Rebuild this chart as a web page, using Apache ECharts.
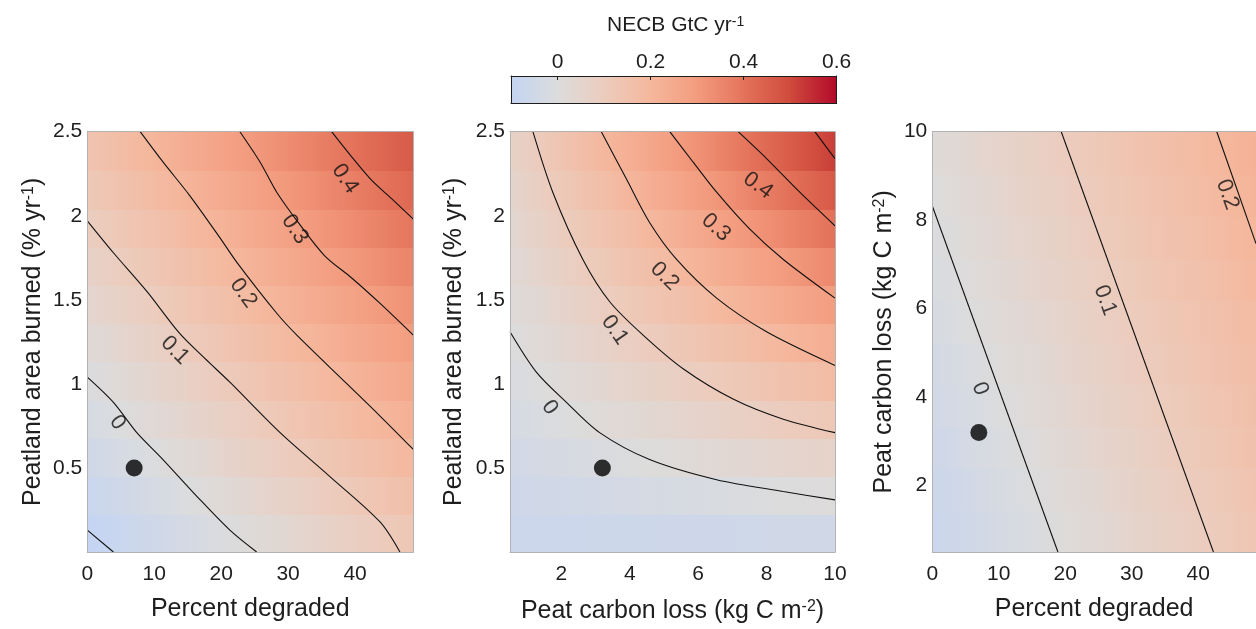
<!DOCTYPE html>
<html>
<head>
<meta charset="utf-8">
<title>NECB sensitivity</title>
<script src="https://cdn.jsdelivr.net/npm/echarts@6/dist/echarts.min.js"></script>
<style>
  html, body { margin: 0; padding: 0; background: #fff; }
  #necb-chart { width: 1256px; height: 629px; }
</style>
</head>
<body>
<div id="necb-chart"></div>
<script>
// sample positions: x nodes (shaded linearly between) and row centres (flat bands)
const degradedNodes = [0, 5, 10, 15, 20, 25, 30, 35, 40, 45, 48.7]
const lossNodes = [0.5, 1.5, 2.5, 3.5, 4.5, 5.5, 6.5, 7.5, 8.5, 9.5, 10]
const burnedRows = [0.114, 0.341, 0.568, 0.795, 1.023, 1.25, 1.477, 1.705, 1.932, 2.159, 2.386]
const lossRows = [0.975, 1.925, 2.875, 3.825, 4.775, 5.725, 6.675, 7.625, 8.575, 9.525]

// NECB (GtC/yr), rows from bottom to top
const necbDegBurn = [
  [-0.104, -0.080, -0.056, -0.033, -0.009, 0.015, 0.038, 0.062, 0.086, 0.109, 0.127],
  [-0.080, -0.055, -0.030, -0.006, 0.019, 0.044, 0.068, 0.093, 0.117, 0.142, 0.160],
  [-0.055, -0.030, -0.004, 0.021, 0.047, 0.073, 0.098, 0.124, 0.149, 0.175, 0.194],
  [-0.031, -0.005, 0.022, 0.048, 0.075, 0.101, 0.128, 0.154, 0.181, 0.207, 0.227],
  [-0.007, 0.021, 0.048, 0.076, 0.103, 0.131, 0.158, 0.185, 0.213, 0.240, 0.261],
  [0.018, 0.046, 0.074, 0.103, 0.131, 0.160, 0.188, 0.216, 0.245, 0.273, 0.294],
  [0.042, 0.071, 0.100, 0.130, 0.159, 0.188, 0.218, 0.247, 0.276, 0.306, 0.327],
  [0.066, 0.096, 0.127, 0.157, 0.187, 0.218, 0.248, 0.278, 0.308, 0.339, 0.361],
  [0.090, 0.122, 0.153, 0.184, 0.215, 0.246, 0.278, 0.309, 0.340, 0.371, 0.394],
  [0.115, 0.147, 0.179, 0.211, 0.243, 0.275, 0.308, 0.340, 0.372, 0.404, 0.428],
  [0.139, 0.172, 0.205, 0.238, 0.271, 0.304, 0.337, 0.371, 0.404, 0.437, 0.461]
]
const necbLossBurn = [
  [-0.071, -0.068, -0.066, -0.064, -0.062, -0.059, -0.057, -0.055, -0.052, -0.050, -0.049],
  [-0.057, -0.050, -0.044, -0.037, -0.030, -0.023, -0.016, -0.009, -0.002, 0.004, 0.008],
  [-0.044, -0.032, -0.021, -0.010, 0.002, 0.013, 0.025, 0.036, 0.048, 0.059, 0.065],
  [-0.030, -0.014, 0.002, 0.018, 0.034, 0.050, 0.066, 0.082, 0.097, 0.113, 0.121],
  [-0.017, 0.004, 0.024, 0.045, 0.065, 0.086, 0.106, 0.127, 0.148, 0.168, 0.178],
  [-0.004, 0.022, 0.047, 0.072, 0.097, 0.122, 0.147, 0.172, 0.198, 0.223, 0.235],
  [0.010, 0.040, 0.069, 0.099, 0.129, 0.158, 0.188, 0.218, 0.247, 0.277, 0.292],
  [0.023, 0.058, 0.092, 0.126, 0.161, 0.195, 0.229, 0.263, 0.298, 0.332, 0.349],
  [0.037, 0.076, 0.114, 0.153, 0.192, 0.231, 0.270, 0.309, 0.348, 0.386, 0.406],
  [0.050, 0.094, 0.137, 0.180, 0.224, 0.267, 0.311, 0.354, 0.397, 0.441, 0.463],
  [0.064, 0.112, 0.160, 0.208, 0.255, 0.303, 0.351, 0.399, 0.447, 0.495, 0.519]
]
const necbDegLoss = [
  [-0.077, -0.055, -0.034, -0.013, 0.009, 0.030, 0.051, 0.073, 0.094, 0.115, 0.131],
  [-0.067, -0.045, -0.024, -0.003, 0.019, 0.040, 0.061, 0.083, 0.104, 0.125, 0.141],
  [-0.057, -0.035, -0.014, 0.007, 0.029, 0.050, 0.071, 0.092, 0.114, 0.135, 0.151],
  [-0.047, -0.026, -0.004, 0.017, 0.038, 0.060, 0.081, 0.102, 0.124, 0.145, 0.161],
  [-0.037, -0.016, 0.006, 0.027, 0.048, 0.070, 0.091, 0.112, 0.134, 0.155, 0.171],
  [-0.027, -0.006, 0.016, 0.037, 0.058, 0.079, 0.101, 0.122, 0.143, 0.165, 0.180],
  [-0.017, 0.004, 0.025, 0.047, 0.068, 0.089, 0.111, 0.132, 0.153, 0.175, 0.190],
  [-0.007, 0.014, 0.035, 0.057, 0.078, 0.099, 0.121, 0.142, 0.163, 0.184, 0.200],
  [0.003, 0.024, 0.045, 0.067, 0.088, 0.109, 0.130, 0.152, 0.173, 0.194, 0.210],
  [0.013, 0.034, 0.055, 0.076, 0.098, 0.119, 0.140, 0.162, 0.183, 0.204, 0.220]
]

// contour lines: [level, points]
const degBurnContours = [
  [-0.1, [[0, 0.13], [3.9, 0]]],
  [0, [[0, 1.04], [3.9, 0.89], [7.4, 0.71], [11.3, 0.55], [16.4, 0.33], [21.3, 0.13], [25.3, 0]]],
  [0.1, [[0, 1.97], [3.9, 1.78], [8.9, 1.55], [13.8, 1.3], [17.6, 1.15], [21.3, 1.01], [28.8, 0.71], [36.2, 0.45], [43.7, 0.18], [46.7, 0]]],
  [0.2, [[7.9, 2.5], [11.3, 2.32], [15.3, 2.12], [19.8, 1.87], [22.4, 1.72], [28.3, 1.42], [31.3, 1.29], [38.8, 1.0], [43.7, 0.81], [48.7, 0.61]]],
  [0.3, [[22.8, 2.5], [25.8, 2.32], [28.3, 2.14], [31.7, 1.95], [35.5, 1.76], [39.5, 1.63], [43.7, 1.48], [48.7, 1.29]]],
  [0.4, [[36.5, 2.5], [39.5, 2.35], [42.5, 2.21], [45.5, 2.1], [48.7, 1.98]]]
]
const lossBurnContours = [
  [0, [[0.5, 1.31], [1.27, 1.07], [2.15, 0.89], [3.12, 0.71], [4.58, 0.55], [6.54, 0.43], [8.49, 0.36], [10, 0.31]]],
  [0.1, [[1.17, 2.5], [1.75, 2.14], [2.63, 1.74], [3.41, 1.49], [4.39, 1.29], [5.56, 1.09], [7.02, 0.91], [8.49, 0.79], [10, 0.71]]],
  [0.2, [[3.17, 2.5], [3.9, 2.22], [4.58, 1.96], [5.37, 1.74], [6.54, 1.51], [8.0, 1.31], [10, 1.11]]],
  [0.3, [[5.17, 2.5], [5.85, 2.32], [6.54, 2.14], [7.51, 1.92], [8.49, 1.74], [10, 1.51]]],
  [0.4, [[7.17, 2.5], [8.0, 2.34], [8.97, 2.14], [10, 1.94]]],
  [0.5, [[9.41, 2.5], [10, 2.34]]]
]
const degLossContours = [
  [0, [[0, 8.32], [18.9, 0.5]]],
  [0.1, [[19.4, 10], [42.3, 0.5]]],
  [0.2, [[42.8, 10], [48.7, 7.47]]]
]

// contour labels: [text, x, y]
const degBurnLabels = [['0', 4.5, 0.77], ['0.1', 13.1, 1.2], ['0.2', 23.3, 1.54], ['0.3', 31.0, 1.92], ['0.4', 38.5, 2.22]]
const lossBurnLabels = [['0', 1.66, 0.86], ['0.1', 3.56, 1.32], ['0.2', 5.02, 1.64], ['0.3', 6.52, 1.93], ['0.4', 7.75, 2.18]]
const degLossLabels = [['0', 7.2, 4.19], ['0.1', 26.0, 6.19], ['0.2', 44.4, 8.58]]

// present-day estimate
const degBurnDot = [[7, 0.5]]
const lossBurnDot = [[3.2, 0.5]]
const degLossDot = [[7, 3.2]]

// colour bar levels
const colorbarLevels = [-0.1, 0, 0.1, 0.2, 0.3, 0.4, 0.5, 0.6]

const chart = echarts.init(document.getElementById('necb-chart'))
const ink = '#1e1e1e'
const frame = '#b3b3b3'
const font = 'Liberation Sans, Arial, Helvetica, sans-serif'
const palette = ['#c4d4f2', '#dcdcdc', '#ecccbd', '#f5b79c', '#f39b7e', '#e4735b', '#cf4a3c', '#b2082a']
const vMin = -0.1
const vMax = 0.6

function necbColor (v) {
  const t = Math.min(1, Math.max(0, (v - vMin) / (vMax - vMin)))
  return echarts.color.lerp(t, palette)
}

const plotTop = 131.7
const plotHeight = 420.3
const boxes = [[87.3, 326], [510, 325], [932.3, 328.7]]
const grids = boxes.map(b => ({ left: b[0], top: plotTop, width: b[1], height: plotHeight }))
grids.push({ left: 511, top: 76, width: 325.7, height: 27.3 })

const nameStyle = {
  fontSize: 25,
  color: ink,
  fontFamily: font,
  rich: { sup: { fontSize: 16, verticalAlign: 'top', color: ink, fontFamily: font } }
}

function frameAxis (gridIndex, min, max, position, color) {
  return {
    type: 'value', gridIndex, min, max, position, z: 5,
    axisLine: { show: true, onZero: false, lineStyle: { color, width: 1 } },
    axisTick: { show: false },
    axisLabel: { show: false },
    splitLine: { show: false }
  }
}

function valueAxis (gridIndex, min, max, ticks, name, nameGap, position, margin) {
  return {
    type: 'value', gridIndex, min, max, position, z: 5,
    name, nameLocation: 'middle', nameGap, nameTextStyle: nameStyle,
    axisLine: { show: true, onZero: false, lineStyle: { color: frame, width: 1 } },
    axisTick: { show: false },
    splitLine: { show: false },
    axisLabel: { customValues: ticks, fontSize: 21, color: ink, fontFamily: font, margin }
  }
}

// each row is a flat band, shaded linearly between x nodes
function bandSeries (axis, nodes, rows, values) {
  const half = (rows[1] - rows[0]) / 2
  const data = []
  values.forEach((row, r) => {
    for (let i = 0; i < nodes.length - 1; i++) {
      data.push([nodes[i], nodes[i + 1], rows[r] - half, rows[r] + half, row[i], row[i + 1]])
    }
  })
  return {
    type: 'custom', xAxisIndex: axis, yAxisIndex: axis, data, silent: true, clip: true, z: 1,
    encode: { x: [0, 1], y: [2, 3] },
    renderItem: (params, api) => {
      const a = api.coord([api.value(0), api.value(3)])
      const b = api.coord([api.value(1), api.value(2)])
      const x = Math.floor(a[0])
      const y = Math.floor(a[1])
      return {
        type: 'rect',
        shape: { x, y, width: Math.ceil(b[0]) - x + 1, height: Math.ceil(b[1]) - y + 1 },
        style: {
          fill: new echarts.graphic.LinearGradient(0, 0, 1, 0, [
            { offset: 0, color: necbColor(api.value(4)) },
            { offset: 1, color: necbColor(api.value(5)) }
          ])
        }
      }
    }
  }
}

const xAxis = [
  frameAxis(0, 0, 48.7, 'top', frame),
  valueAxis(0, 0, 48.7, [0, 10, 20, 30, 40], 'Percent degraded', 45, 'bottom', 12),
  frameAxis(1, 0.5, 10, 'top', frame),
  valueAxis(1, 0.5, 10, [2, 4, 6, 8, 10], 'Peat carbon loss (kg C m{sup|-2})', 47, 'bottom', 12),
  frameAxis(2, 0, 48.7, 'top', frame),
  valueAxis(2, 0, 48.7, [0, 10, 20, 30, 40], 'Percent degraded', 45, 'bottom', 12),
  {
    type: 'value', gridIndex: 3, min: vMin, max: vMax, position: 'top', z: 10,
    axisLine: { show: true, onZero: false, lineStyle: { color: ink, width: 1 } },
    splitLine: { show: false },
    axisTick: { show: true, inside: true, length: 4, customValues: [0, 0.2, 0.4], lineStyle: { color: ink } },
    axisLabel: { customValues: [0, 0.2, 0.4, 0.6], fontSize: 21, color: ink, fontFamily: font, margin: 3 }
  },
  frameAxis(3, vMin, vMax, 'bottom', ink)
]

const yAxis = [
  frameAxis(0, 0, 2.5, 'right', frame),
  valueAxis(0, 0, 2.5, [0.5, 1, 1.5, 2, 2.5], 'Peatland area burned (% yr{sup|-1})', 42, 'left', 5),
  frameAxis(1, 0, 2.5, 'right', frame),
  valueAxis(1, 0, 2.5, [0.5, 1, 1.5, 2, 2.5], 'Peatland area burned (% yr{sup|-1})', 43, 'left', 5),
  frameAxis(2, 0.5, 10, 'right', frame),
  valueAxis(2, 0.5, 10, [2, 4, 6, 8, 10], 'Peat carbon loss (kg C m{sup|-2})', 36, 'left', 5),
  frameAxis(3, 0, 1, 'left', ink),
  frameAxis(3, 0, 1, 'right', ink)
]

const series = [
  bandSeries(1, degradedNodes, burnedRows, necbDegBurn),
  bandSeries(3, lossNodes, burnedRows, necbLossBurn),
  bandSeries(5, degradedNodes, lossRows, necbDegLoss)
]

// colour bar, drawn on its own value axis
series.push({
  type: 'custom', xAxisIndex: 6, yAxisIndex: 6, silent: true, clip: true, z: 1,
  data: colorbarLevels.slice(1).map((v, i) => [colorbarLevels[i], v]),
  encode: { x: [0, 1] },
  renderItem: (params, api) => {
    const a = api.coord([api.value(0), 1])
    const b = api.coord([api.value(1), 0])
    const x = Math.floor(a[0])
    return {
      type: 'rect',
      shape: { x, y: a[1], width: Math.ceil(b[0]) - x + 1, height: b[1] - a[1] },
      style: {
        fill: new echarts.graphic.LinearGradient(0, 0, 1, 0, [
          { offset: 0, color: necbColor(api.value(0)) },
          { offset: 1, color: necbColor(api.value(1)) }
        ])
      }
    }
  }
})

;[[degBurnContours, 1], [lossBurnContours, 3], [degLossContours, 5]].forEach(([lines, axis]) => {
  lines.forEach(([level, pts]) => {
    series.push({
      type: 'line', name: String(level), xAxisIndex: axis, yAxisIndex: axis, data: pts,
      symbol: 'none', smooth: 0.3, silent: true, z: 3,
      lineStyle: { color: '#111', width: 1.1 }
    })
  })
})

const tilts = [[-52, -45, -54, -56, -56], [-55, -55, -45, -42, -36], [-70, -70, -70]]
;[[degBurnLabels, 1], [lossBurnLabels, 3], [degLossLabels, 5]].forEach(([labels, axis], k) => {
  series.push({
    type: 'scatter', xAxisIndex: axis, yAxisIndex: axis, symbolSize: 1, silent: true, z: 4,
    itemStyle: { color: 'transparent' },
    label: { show: true, position: 'inside', fontSize: 22, color: '#111', fontFamily: font },
    data: labels.map((l, i) => ({ value: [l[1], l[2]], label: { formatter: l[0], rotate: tilts[k][i] } }))
  })
})

;[[degBurnDot, 1], [lossBurnDot, 3], [degLossDot, 5]].forEach(([pts, axis]) => {
  series.push({
    type: 'scatter', xAxisIndex: axis, yAxisIndex: axis, data: pts,
    symbolSize: 17, itemStyle: { color: '#000' }, silent: true, z: 5
  })
})

chart.setOption({
  animation: false,
  textStyle: { fontFamily: font },
  title: {
    text: 'NECB GtC yr{sup|-1}',
    left: 602,
    top: 10,
    textStyle: {
      fontSize: 21, fontWeight: 'normal', color: ink, fontFamily: font,
      rich: { sup: { fontSize: 14, verticalAlign: 'top', color: ink, fontFamily: font } }
    }
  },
  grid: grids,
  xAxis,
  yAxis,
  series
})
</script>
</body>
</html>
